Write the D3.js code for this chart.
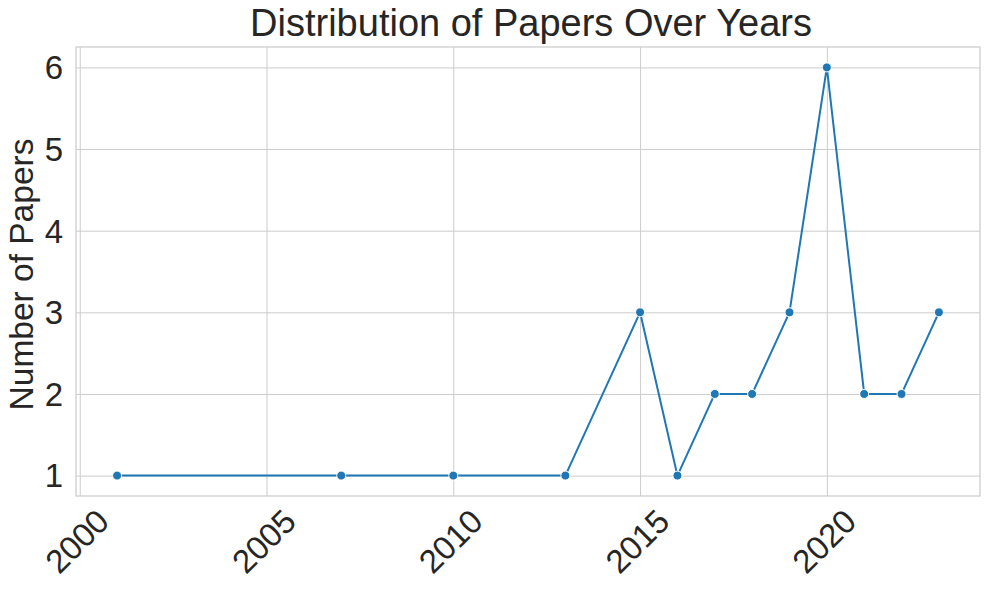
<!DOCTYPE html>
<html>
<head>
<meta charset="utf-8">
<script src="https://cdn.jsdelivr.net/npm/d3@7"></script>
<style>
  body { margin: 0; background: #fff; }
  svg text { font-family: "Liberation Sans", Arial, sans-serif; fill: #262626; }
</style>
</head>
<body>
<script>
// data
var years = [2001, 2007, 2010, 2013, 2015, 2016, 2017, 2018, 2019, 2020, 2021, 2022, 2023];
var papers = [1, 1, 1, 1, 3, 1, 2, 2, 3, 6, 2, 2, 3];
var xTicks = [2000, 2005, 2010, 2015, 2020];
var yTicks = [1, 2, 3, 4, 5, 6];

var titleText = "Distribution of Papers Over Years";
var yLabelText = "Number of Papers";

// size (note: "top" is taken by window.top, so use p_ names)
var w_svg = 989, h_svg = 590;
var p_left = 76, p_right = 980, p_top = 47, p_bottom = 496;

var svg = d3.select("body").append("svg")
  .attr("width", w_svg)
  .attr("height", h_svg);

// scales (5% margins like matplotlib)
var xMin = d3.min(years), xMax = d3.max(years);
var xPad = (xMax - xMin) * 0.05;
var xScale = d3.scaleLinear().domain([xMin - xPad, xMax + xPad]).range([p_left, p_right]);

var yMin = d3.min(papers), yMax = d3.max(papers);
var yPad = (yMax - yMin) * 0.05;
var yScale = d3.scaleLinear().domain([yMin - yPad, yMax + yPad]).range([p_bottom, p_top]);

// grid lines
var x_axis = d3.axisBottom(xScale).tickValues(xTicks).tickSize(-(p_bottom - p_top)).tickFormat("");
svg.append("g").attr("class", "x grid")
  .attr("transform", "translate(0," + p_bottom + ")")
  .call(x_axis)
  .call(function(g) { g.select(".domain").remove(); })
  .selectAll("line").attr("stroke", "#cccccc").attr("stroke-width", 1);

var y_axis = d3.axisLeft(yScale).tickValues(yTicks).tickSize(-(p_right - p_left)).tickFormat("");
svg.append("g").attr("class", "y grid")
  .attr("transform", "translate(" + p_left + ",0)")
  .call(y_axis)
  .call(function(g) { g.select(".domain").remove(); })
  .selectAll("line").attr("stroke", "#cccccc").attr("stroke-width", 1);

// frame
svg.append("rect")
  .attr("x", p_left).attr("y", p_top)
  .attr("width", p_right - p_left).attr("height", p_bottom - p_top)
  .attr("fill", "none")
  .attr("stroke", "#cccccc")
  .attr("stroke-width", 1.25);

// x tick labels, rotated 45 deg and centered on the tick
svg.append("g").selectAll("text")
  .data(xTicks)
  .enter()
  .append("text")
  .attr("text-anchor", "middle")
  .attr("dy", "0.36em")
  .attr("font-size", 33)
  .attr("transform", function(d) {
    return "translate(" + (xScale(d) - 3) + ",541) rotate(-45)";
  })
  .text(function(d) { return d; });

// y tick labels
svg.append("g").selectAll("text")
  .data(yTicks)
  .enter()
  .append("text")
  .attr("text-anchor", "end")
  .attr("x", p_left - 13)
  .attr("y", function(d) { return yScale(d); })
  .attr("dy", "0.36em")
  .attr("font-size", 33)
  .text(function(d) { return d; });

// y label
svg.append("text")
  .attr("text-anchor", "middle")
  .attr("font-size", 33.5)
  .attr("transform", "translate(33," + ((p_top + p_bottom) / 2 + 3) + ") rotate(-90)")
  .text(yLabelText);

// title
svg.append("text")
  .attr("text-anchor", "middle")
  .attr("x", (p_left + p_right) / 2 + 3)
  .attr("y", 36)
  .attr("font-size", 38)
  .text(titleText);

// line
var dataset = years.map(function(y, i) { return [y, papers[i]]; });

var line = d3.line()
  .x(function(d) { return xScale(d[0]); })
  .y(function(d) { return yScale(d[1]); });

svg.append("path")
  .datum(dataset)
  .attr("d", line)
  .attr("fill", "none")
  .attr("stroke", "#1f77b4")
  .attr("stroke-width", 2)
  .attr("stroke-linejoin", "round")
  .attr("stroke-linecap", "round");

// markers
svg.selectAll("circle")
  .data(dataset)
  .enter()
  .append("circle")
  .attr("cx", function(d) { return xScale(d[0]); })
  .attr("cy", function(d) { return yScale(d[1]); })
  .attr("r", 4.5)
  .attr("fill", "#1f77b4")
  .attr("stroke", "#ffffff")
  .attr("stroke-width", 1);
</script>
</body>
</html>
